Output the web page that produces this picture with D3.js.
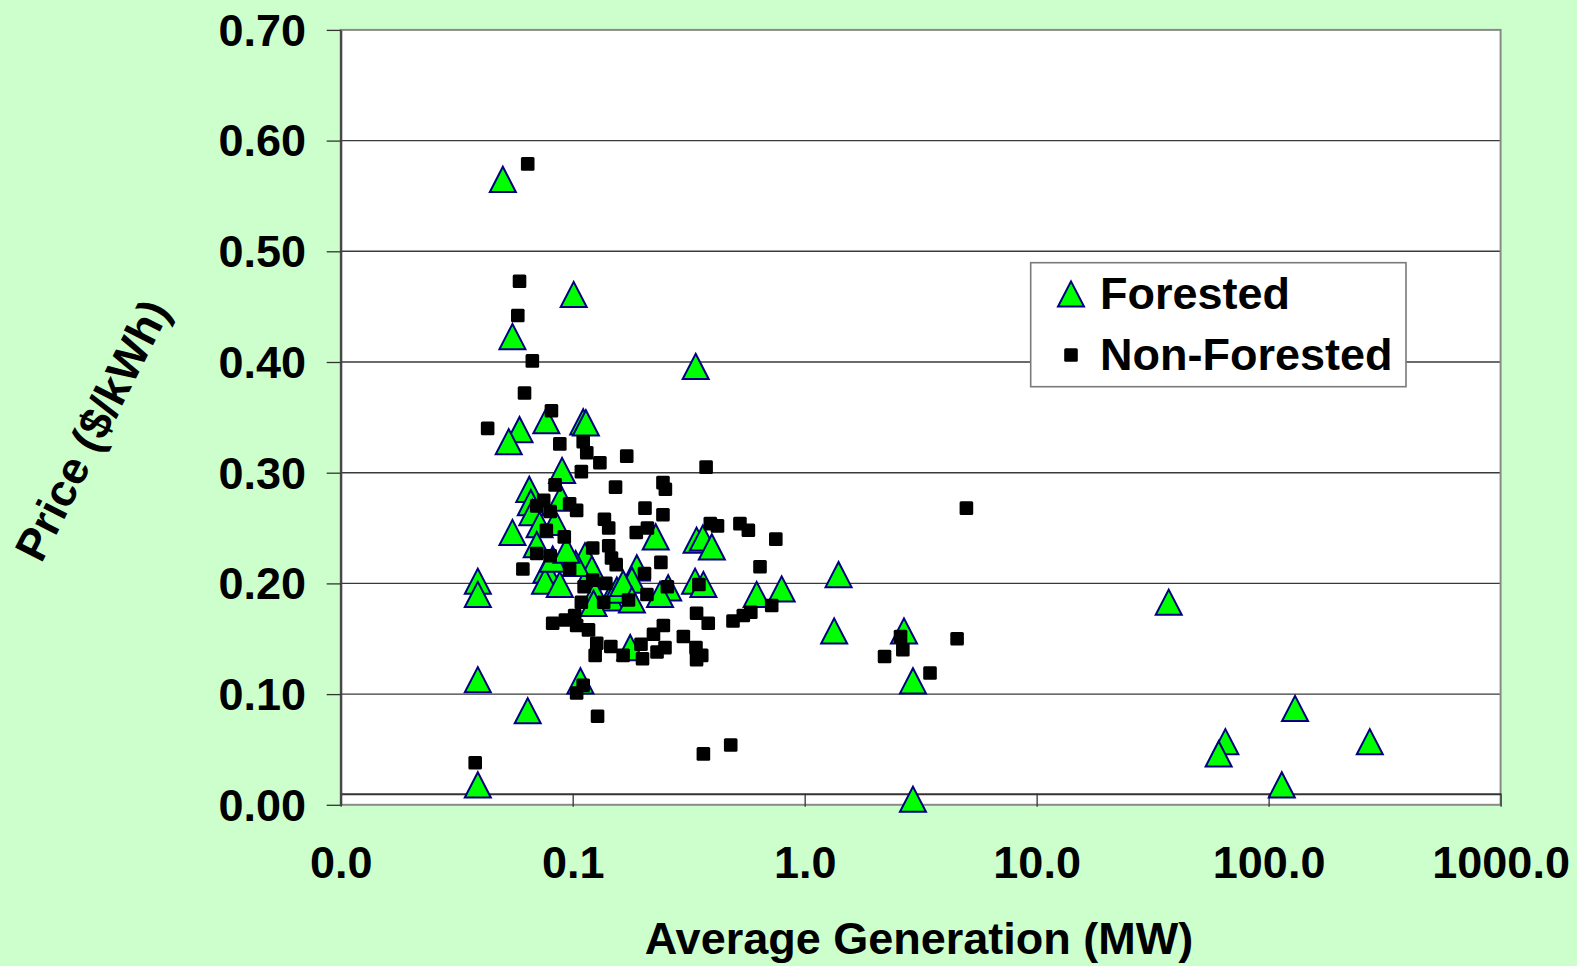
<!DOCTYPE html>
<html>
<head>
<meta charset="utf-8">
<script src="https://d3js.org/d3.v7.min.js"></script>
<style>
  html, body { margin: 0; padding: 0; background: #CCFFCC; }
  svg { display: block; }
  text { font-family: "Liberation Sans", Arial, sans-serif; font-weight: bold; fill: #000; }
</style>
</head>
<body>
<svg id="chart" width="1577" height="966"></svg>
<script>
// ---- Data (Average Generation in MW, Price in $/kWh) ----
const forestedX = [0.050, 0.101, 0.055, 0.339, 0.059, 0.053, 0.077, 0.111, 0.114, 0.090,
  0.065, 0.089, 0.066, 0.067, 0.055, 0.072, 0.084, 0.070, 0.095, 0.113,
  0.077, 0.076, 0.088, 0.121, 0.125, 0.145, 0.155, 0.039, 0.039, 0.039,
  0.064, 0.039, 0.108, 0.177, 0.228, 0.342, 0.364, 0.398, 0.189, 0.180,
  0.165, 0.258, 0.238, 0.180, 0.337, 0.366, 0.621, 0.796, 1.40, 1.34,
  2.68, 2.93, 2.93, 37.1, 130, 65.1, 60.9, 273, 114, 0.103, 0.123,
  0.082, 0.094];
const forestedY = [0.565, 0.461, 0.423, 0.396, 0.339, 0.328, 0.347, 0.346, 0.345, 0.302,
  0.285, 0.277, 0.273, 0.264, 0.246, 0.253, 0.255, 0.235, 0.225, 0.225,
  0.212, 0.202, 0.199, 0.213, 0.191, 0.187, 0.194, 0.202, 0.190, 0.113,
  0.085, 0.018, 0.112, 0.142, 0.242, 0.239, 0.241, 0.233, 0.214, 0.203,
  0.200, 0.196, 0.190, 0.185, 0.202, 0.199, 0.190, 0.195, 0.208, 0.157,
  0.157, 0.112, 0.005, 0.183, 0.087, 0.057, 0.046, 0.057, 0.018, 0.218, 0.182,
  0.222, 0.230];

const nonForestedX = [0.064, 0.059, 0.058, 0.067, 0.062, 0.043, 0.081, 0.088, 0.111, 0.115,
  0.131, 0.171, 0.376, 0.109, 0.084, 0.153, 0.245, 0.251, 0.075, 0.070,
  0.080, 0.097, 0.104, 0.137, 0.143, 0.205, 0.245, 0.077, 0.092, 0.188,
  0.210, 0.392, 0.421, 0.526, 0.572, 0.751, 0.143, 0.122, 0.070, 0.080,
  0.061, 0.097, 0.147, 0.154, 0.240, 0.642, 0.204, 0.122, 0.139, 0.112,
  0.256, 0.350, 0.209, 0.174, 0.109, 0.136, 0.721, 0.586, 0.544, 0.491,
  0.342, 0.384, 0.246, 0.223, 0.300, 0.340, 0.360, 0.342, 0.250, 0.231,
  0.197, 0.200, 0.165, 0.146, 0.127, 0.125, 0.117, 0.104, 0.102, 0.093,
  0.082, 0.111, 0.104, 0.128, 0.366, 0.480, 0.038, 4.98, 2.59, 2.65,
  2.21, 4.54, 3.47];
const nonForestedY = [0.579, 0.473, 0.442, 0.401, 0.372, 0.340, 0.356, 0.326, 0.328, 0.318,
  0.309, 0.315, 0.305, 0.301, 0.289, 0.287, 0.291, 0.285, 0.275, 0.270,
  0.265, 0.272, 0.266, 0.258, 0.250, 0.268, 0.262, 0.248, 0.242, 0.246,
  0.250, 0.254, 0.252, 0.254, 0.248, 0.240, 0.234, 0.232, 0.227, 0.225,
  0.213, 0.213, 0.223, 0.217, 0.219, 0.215, 0.209, 0.203, 0.200, 0.197,
  0.197, 0.199, 0.190, 0.185, 0.183, 0.183, 0.180, 0.174, 0.171, 0.166,
  0.173, 0.164, 0.162, 0.154, 0.152, 0.142, 0.135, 0.131, 0.142, 0.138,
  0.145, 0.132, 0.135, 0.143, 0.146, 0.135, 0.158, 0.162, 0.171, 0.167,
  0.164, 0.108, 0.101, 0.080, 0.046, 0.054, 0.038, 0.268, 0.152, 0.140,
  0.134, 0.150, 0.119];

const xTickValues = [0.01, 0.1, 1, 10, 100, 1000];
const yTickValues = [0, 0.1, 0.2, 0.3, 0.4, 0.5, 0.6, 0.7];
const seriesNames = ["Forested", "Non-Forested"];
const xTitle = "Average Generation (MW)";
const yTitle = "Price ($/kWh)";

// ---- Layout ----
const svg = d3.select("#chart");
const L = 340.7, R = 1500.6, T = 29.9, B = 804.8;
const FS = "45px";

const x = d3.scaleLog().domain([0.01, 1000]).range([L, R]);
const y = d3.scaleLinear().domain([0, 0.7]).range([B, T]);

// plot area
svg.append("rect").attr("x", L).attr("y", T).attr("width", R - L).attr("height", B - T)
  .attr("fill", "#FFFFFF");

// gridlines
svg.append("g").selectAll("line").data(yTickValues.filter(v => v > 0 && v < 0.7)).join("line")
  .attr("x1", L).attr("x2", R)
  .attr("y1", d => y(d)).attr("y2", d => y(d))
  .attr("stroke", "#3a3a3a").attr("stroke-width", 1.4);

// border
svg.append("rect").attr("x", L).attr("y", T).attr("width", R - L).attr("height", B - T)
  .attr("fill", "none").attr("stroke", "#8a8a8a").attr("stroke-width", 2);

// x axis (crosses at 0.01)
const xAxis = d3.axisBottom(x).tickValues(xTickValues).tickFormat(d3.format(".1f"))
  .tickSize(13).tickSizeOuter(0);
const gx = svg.append("g").attr("transform", `translate(0,${y(0.01)})`).call(xAxis);
gx.select(".domain").attr("stroke", "#333").attr("stroke-width", 2);
gx.selectAll(".tick line").attr("stroke", "#333").attr("stroke-width", 1.3);
gx.selectAll(".tick text").attr("y", 84).attr("dy", 0)
  .style("font-size", FS).style("font-family", "'Liberation Sans', Arial, sans-serif")
  .style("font-weight", "bold").attr("fill", "#000");

// y axis
const yAxis = d3.axisLeft(y).tickValues(yTickValues).tickFormat(d3.format(".2f"))
  .tickSize(14).tickSizeOuter(0).tickPadding(20.7);
const gy = svg.append("g").attr("transform", `translate(${L},0)`).call(yAxis);
gy.select(".domain").attr("stroke", "#444").attr("stroke-width", 2.2);
gy.selectAll(".tick line").attr("stroke", "#333").attr("stroke-width", 1.3);
gy.selectAll(".tick text").attr("dy", "0.34em")
  .style("font-size", FS).style("font-family", "'Liberation Sans', Arial, sans-serif")
  .style("font-weight", "bold").attr("fill", "#000");

// markers
const triPath = "M0,-12.6L13,12.6L-13,12.6Z";
const forested = forestedX.map((v, i) => ({ x: v, y: forestedY[i] }));
const nonForested = nonForestedX.map((v, i) => ({ x: v, y: nonForestedY[i] }));

svg.append("g").selectAll("path").data(forested).join("path")
  .attr("d", triPath)
  .attr("transform", d => `translate(${x(d.x)},${y(d.y)})`)
  .attr("fill", "#00FF00").attr("stroke", "#000080").attr("stroke-width", 2)
  .attr("stroke-linejoin", "miter");

svg.append("g").selectAll("rect").data(nonForested).join("rect")
  .attr("x", d => x(d.x) - 6.8).attr("y", d => y(d.y) - 6.8)
  .attr("width", 13.6).attr("height", 13.6).attr("rx", 1.5)
  .attr("fill", "#000000");

// legend
const lg = svg.append("g");
lg.append("rect").attr("x", 1030.7).attr("y", 262.7).attr("width", 375.3).attr("height", 124)
  .attr("fill", "#FFFFFF").attr("stroke", "#7a7a7a").attr("stroke-width", 1.6);
lg.append("path").attr("d", triPath).attr("transform", "translate(1071,294)")
  .attr("fill", "#00FF00").attr("stroke", "#000080").attr("stroke-width", 2);
lg.append("rect").attr("x", 1071 - 6.8).attr("y", 355 - 6.8).attr("width", 13.6).attr("height", 13.6)
  .attr("rx", 1.5).attr("fill", "#000");
lg.append("text").attr("x", 1100).attr("y", 309.3).style("font-size", FS).text(seriesNames[0]);
lg.append("text").attr("x", 1100).attr("y", 370).style("font-size", FS).text(seriesNames[1]);

// axis titles
svg.append("text").attr("x", 919).attr("y", 953.5).attr("text-anchor", "middle")
  .style("font-size", FS).text(xTitle);
svg.append("text").attr("transform", "translate(92,430) rotate(-63)")
  .attr("text-anchor", "middle").attr("dy", "0.35em")
  .style("font-size", FS).text(yTitle);
</script>
</body>
</html>
